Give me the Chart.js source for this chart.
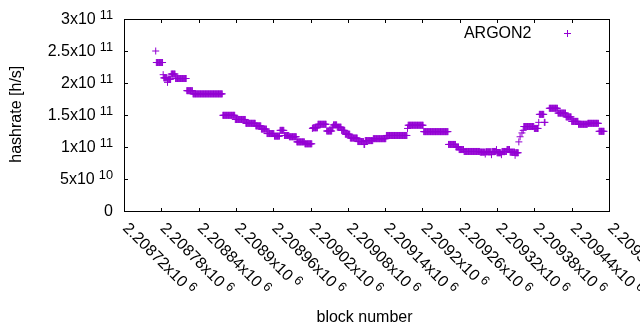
<!DOCTYPE html>
<html><head><meta charset="utf-8">
<script src="https://cdn.jsdelivr.net/npm/chart.js@4/dist/chart.umd.min.js"></script>
<style>html,body{margin:0;padding:0;background:#fff}canvas{display:block}</style>
</head><body>
<canvas id="c" width="640" height="330" style="width:640px;height:330px"></canvas>
<script>
// ---- data ----
const seriesName = 'ARGON2';
// runs of consecutive blocks sharing the same hashrate estimate
const runFirstBlock = [2208771,2208772,2208783,2208784,2208790,2208791,2208796,2208803,2208821,2208831,
  2208879,2208899,2208916,2208932,2208941,2208950,2208962,2208971,2208978,2208986,
  2208998,2209011,2209023,2209024,2209032,2209046,2209055,2209057,2209063,2209070,
  2209076,2209084,2209096,2209106,2209108,2209121,2209142,2209176,2209177,2209202,
  2209242,2209254,2209259,2209267,2209293,2209301,2209302,2209311,2209312,2209319,
  2209320,2209327,2209328,2209336,2209341,2209349,2209350,2209355,2209357,2209360,
  2209362,2209363,2209380,2209387,2209388,2209396,2209404,2209418,2209431,2209440,
  2209451,2209466,2209484];
const runLastBlock = [2208771,2208782,2208783,2208789,2208790,2208795,2208802,2208820,2208830,2208878,
  2208898,2208915,2208931,2208940,2208949,2208961,2208970,2208977,2208985,2208997,
  2209010,2209022,2209023,2209031,2209045,2209054,2209056,2209062,2209069,2209075,
  2209083,2209095,2209105,2209107,2209120,2209141,2209175,2209176,2209201,2209241,
  2209253,2209258,2209266,2209292,2209300,2209301,2209310,2209311,2209318,2209319,
  2209326,2209327,2209335,2209340,2209348,2209349,2209354,2209355,2209357,2209360,
  2209362,2209379,2209386,2209387,2209395,2209397,2209417,2209430,2209439,2209450,
  2209465,2209483,2209492];
const runHashrate = [2.50e11,2.32e11,2.13e11,2.08e11,2.01e11,2.06e11,2.14e11,2.07e11,1.88e11,1.83e11,
  1.495e11,1.43e11,1.37e11,1.33e11,1.28e11,1.21e11,1.17e11,1.26e11,1.18e11,1.16e11,
  1.08e11,1.05e11,1.29e11,1.30e11,1.355e11,1.25e11,1.31e11,1.345e11,1.31e11,1.26e11,
  1.20e11,1.14e11,1.085e11,1.04e11,1.10e11,1.13e11,1.18e11,1.29e11,1.34e11,1.24e11,
  1.04e11,1.00e11,0.96e11,0.93e11,0.92e11,0.89e11,0.925e11,0.88e11,0.93e11,0.96e11,
  0.91e11,0.88e11,0.93e11,0.96e11,0.92e11,0.87e11,0.91e11,1.08e11,1.16e11,1.22e11,
  1.26e11,1.32e11,1.29e11,1.385e11,1.51e11,1.385e11,1.605e11,1.53e11,1.47e11,1.40e11,
  1.355e11,1.37e11,1.245e11];
const xTickValues = [2208720,2208780,2208840,2208900,2208960,2209020,2209080,2209140,2209200,2209260,2209320,2209380,2209440,2209500];
const xTickLabels = ['2.20872x10^6','2.20878x10^6','2.20884x10^6','2.2089x10^6','2.20896x10^6','2.20902x10^6','2.20908x10^6',
  '2.20914x10^6','2.2092x10^6','2.20926x10^6','2.20932x10^6','2.20938x10^6','2.20944x10^6','2.2095x10^6'];
const yTickValues = [0,5e10,1e11,1.5e11,2e11,2.5e11,3e11];
const yTickLabels = ['0','5x10^10','1x10^11','1.5x10^11','2x10^11','2.5x10^11','3x10^11'];
const xTitle = 'block number';
const yTitle = 'hashrate [h/s]';

// ---- build dataset: one point per block of each run ----
const points = [];
runFirstBlock.forEach((b0, i) => {
  for (let b = b0; b <= runLastBlock[i]; b++) points.push({x: b, y: runHashrate[i]});
});

const PURPLE = '#9400d3';
const FONT = '"Liberation Sans", Arial, Helvetica, sans-serif';
const SUP_GAP = 4, SUP_RAISE = 5;

function drawSci(ctx, label, x, y, align) {
  const parts = label.split('^');
  ctx.font = '16px ' + FONT;
  const wm = ctx.measureText(parts[0]).width;
  let ws = 0;
  if (parts.length > 1) { ctx.font = '12.8px ' + FONT; ws = SUP_GAP + ctx.measureText(parts[1]).width; }
  const x0 = align === 'right' ? x - wm - ws : x;
  ctx.textAlign = 'left'; ctx.textBaseline = 'alphabetic';
  ctx.font = '16px ' + FONT;
  ctx.fillText(parts[0], x0, y);
  if (parts.length > 1) { ctx.font = '12.8px ' + FONT; ctx.fillText(parts[1], x0 + wm + SUP_GAP, y - SUP_RAISE); }
}

const framePlugin = {
  id: 'frame',
  afterDraw(chart) {
    const ctx = chart.ctx, xs = chart.scales.x, ys = chart.scales.y;
    const L = Math.round(xs.getPixelForValue(xs.min)), R = Math.round(xs.getPixelForValue(xs.max));
    const T = Math.round(ys.getPixelForValue(ys.max)), B = Math.round(ys.getPixelForValue(ys.min));
    ctx.save();
    ctx.strokeStyle = '#000'; ctx.lineWidth = 1; ctx.fillStyle = '#000';
    ctx.beginPath();
    ctx.rect(L + 0.5, T + 0.5, R - L, B - T);
    const TL = 4;
    yTickValues.forEach(v => {
      const py = Math.round(ys.getPixelForValue(v)) + 0.5;
      ctx.moveTo(L, py); ctx.lineTo(L + TL, py);
      ctx.moveTo(R + 1, py); ctx.lineTo(R + 1 - TL, py);
    });
    xTickValues.forEach(v => {
      const px = Math.round(xs.getPixelForValue(v)) + 0.5;
      ctx.moveTo(px, B + 1); ctx.lineTo(px, B + 1 - TL);
      ctx.moveTo(px, T); ctx.lineTo(px, T + TL);
    });
    ctx.stroke();
    ctx.fillStyle = '#000';
    // y tick labels
    yTickValues.forEach((v, i) => {
      const py = ys.getPixelForValue(v);
      drawSci(ctx, yTickLabels[i], L - 11, py + 5.3, 'right');
    });
    // x tick labels rotated by -45 deg (reading down-right)
    xTickValues.forEach((v, i) => {
      const px = xs.getPixelForValue(v);
      ctx.save();
      ctx.translate(px + 2, B + 14);
      ctx.rotate(Math.PI / 4);
      drawSci(ctx, xTickLabels[i], 0, 5.5, 'left');
      ctx.restore();
    });
    // axis titles
    ctx.font = '16px ' + FONT;
    ctx.textAlign = 'center'; ctx.textBaseline = 'alphabetic';
    ctx.fillText(xTitle, 364.5, 321.5);
    ctx.save();
    ctx.translate(20.7, 114.2);
    ctx.rotate(-Math.PI / 2);
    ctx.fillText(yTitle, 0, 0);
    ctx.restore();
    // legend
    ctx.textAlign = 'right';
    ctx.fillText(seriesName, 531.5, 37.5);
    ctx.strokeStyle = PURPLE;
    ctx.beginPath();
    ctx.moveTo(564, 33.5); ctx.lineTo(571, 33.5);
    ctx.moveTo(567.5, 30); ctx.lineTo(567.5, 37);
    ctx.stroke();
    ctx.restore();
  }
};

new Chart(document.getElementById('c'), {
  type: 'scatter',
  data: { datasets: [{
    label: seriesName,
    data: points,
    pointStyle: 'cross',
    pointRadius: 3.5,
    pointHoverRadius: 3.5,
    borderWidth: 1,
    borderColor: PURPLE,
    backgroundColor: PURPLE,
    showLine: false
  }]},
  options: {
    responsive: false,
    animation: false,
    devicePixelRatio: 1,
    layout: { padding: { left: 124, right: 31, top: 19, bottom: 119 } },
    plugins: { legend: { display: false }, tooltip: { enabled: false } },
    events: [],
    scales: {
      x: { type: 'linear', display: false, min: 2208720, max: 2209500 },
      y: { type: 'linear', display: false, min: 0, max: 3e11 }
    }
  },
  plugins: [framePlugin]
});
</script>
</body></html>
